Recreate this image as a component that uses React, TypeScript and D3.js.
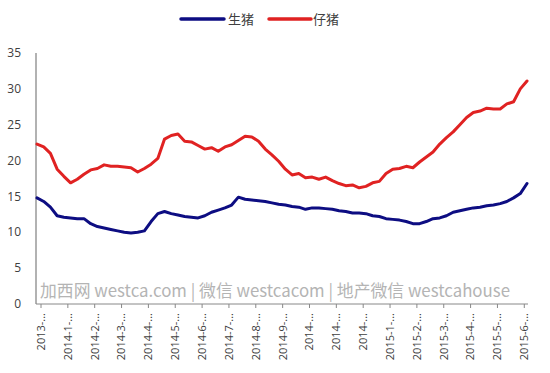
import React from "react";
import * as d3 from "d3";

const seriesNames = ["生猪", "仔猪"];
const seriesColors = ["#0d0d82", "#e02222"];

// weekly prices, late 2013 – June 2015
const hogValues = [
  14.8, 14.3, 13.5, 12.3, 12.1, 12.0, 11.9, 11.9, 11.2, 10.8,
  10.6, 10.4, 10.2, 10.0, 9.9, 10.0, 10.2, 11.5, 12.6, 12.9,
  12.6, 12.4, 12.2, 12.1, 12.0, 12.3, 12.8, 13.1, 13.4, 13.8,
  14.9, 14.6, 14.5, 14.4, 14.3, 14.1, 13.9, 13.8, 13.6, 13.5,
  13.2, 13.4, 13.4, 13.3, 13.2, 13.0, 12.9, 12.7, 12.7, 12.6,
  12.3, 12.2, 11.9, 11.8, 11.7, 11.5, 11.2, 11.2, 11.5, 11.9,
  12.0, 12.3, 12.8, 13.0, 13.2, 13.4, 13.5, 13.7, 13.8, 14.0,
  14.3, 14.8, 15.4, 16.8,
];
const pigletValues = [
  22.3, 21.9, 21.0, 18.8, 17.8, 16.9, 17.4, 18.1, 18.7, 18.9,
  19.4, 19.2, 19.2, 19.1, 19.0, 18.4, 18.9, 19.5, 20.3, 23.0,
  23.5, 23.7, 22.7, 22.6, 22.1, 21.6, 21.8, 21.3, 21.9, 22.2,
  22.8, 23.4, 23.3, 22.7, 21.6, 20.8, 19.9, 18.8, 18.0, 18.2,
  17.6, 17.7, 17.4, 17.7, 17.2, 16.8, 16.5, 16.6, 16.2, 16.4,
  16.9, 17.1, 18.2, 18.8, 18.9, 19.2, 19.0, 19.8, 20.5, 21.2,
  22.3, 23.2, 24.0, 25.0, 26.0, 26.7, 26.9, 27.3, 27.2, 27.2,
  27.9, 28.2, 30.0, 31.1,
];
const tickLabels = [
  "2013-...", "2014-1-...", "2014-2-...", "2014-3-...", "2014-4-...",
  "2014-5-...", "2014-6-...", "2014-7-...", "2014-8-...", "2014-9-...",
  "2014-...", "2014-...", "2014-...", "2015-1-...", "2015-2-...",
  "2015-3-...", "2015-4-...", "2015-5-...", "2015-6-...",
];
const yTicks = [0, 5, 10, 15, 20, 25, 30, 35];
const labelEvery = 4;
const watermark = "加西网 westca.com | 微信 westcacom | 地产微信 westcahouse";

export default function App() {
  const W = 550;
  const H = 373;
  const left = 36;
  const right = 528;
  const top = 53;
  const bottom = 304;

  const idx = d3.range(hogValues.length);
  const x = d3.scaleLinear().domain([0, hogValues.length - 1]).range([37, 527]);
  const y = d3.scaleLinear().domain([0, 35]).range([bottom, top]);

  const line = d3
    .line<number>()
    .x((_, i) => x(i))
    .y((d) => y(d))
    .curve(d3.curveLinear);

  const series = [hogValues, pigletValues];
  const textColor = "#404040";

  return (
    <svg
      width={W}
      height={H}
      style={{ position: "absolute", left: 0, top: 0, background: "#fff" }}
      fontFamily="'Open Sans', 'Noto Sans', sans-serif"
    >
      {/* legend */}
      <g>
        <line x1={181} x2={224} y1={19} y2={19} stroke={seriesColors[0]} strokeWidth={3.5} strokeLinecap="round" />
        <text x={228} y={19} dy="0.35em" fontSize={13} fill={textColor} fontFamily="'Noto Sans CJK SC'">
          {seriesNames[0]}
        </text>
        <line x1={269} x2={311} y1={19} y2={19} stroke={seriesColors[1]} strokeWidth={3.5} strokeLinecap="round" />
        <text x={313} y={19} dy="0.35em" fontSize={13} fill={textColor} fontFamily="'Noto Sans CJK SC'">
          {seriesNames[1]}
        </text>
      </g>

      {/* y tick labels */}
      {yTicks.map((t) => (
        <text key={t} x={21} y={y(t)} dy="0.35em" textAnchor="end" fontSize={12} fill={textColor}>
          {t}
        </text>
      ))}

      {/* watermark */}
      <text
        x={40}
        y={297}
        fontSize={17}
        fill="#b4b4b4"
        fontFamily="'Noto Sans CJK SC', 'Open Sans', sans-serif"
        textLength={470}
        lengthAdjust="spacingAndGlyphs"
      >
        {watermark}
      </text>

      {/* axes */}
      <line x1={left} x2={left} y1={top} y2={bottom} stroke="#999" strokeWidth={1.5} />
      <line x1={left} x2={right} y1={bottom} y2={bottom} stroke="#888" strokeWidth={1} />

      {/* x ticks and labels */}
      {tickLabels.map((lab, k) => {
        const xi = x(k * labelEvery) + 4;
        return (
          <g key={k}>
            <line x1={xi} x2={xi} y1={bottom} y2={bottom + 4} stroke="#888" strokeWidth={1} />
            <text
              transform={`translate(${xi},${bottom + 9}) rotate(-90)`}
              dy="0.35em"
              textAnchor="end"
              fontSize={11}
              fill={textColor}
            >
              {lab}
            </text>
          </g>
        );
      })}

      {/* lines */}
      {series.map((s, i) => (
        <path
          key={i}
          d={line(s) || ""}
          fill="none"
          stroke={seriesColors[i]}
          strokeWidth={3}
          strokeLinejoin="round"
          strokeLinecap="round"
        />
      ))}
      {idx.length === 0 ? null : null}
    </svg>
  );
}
